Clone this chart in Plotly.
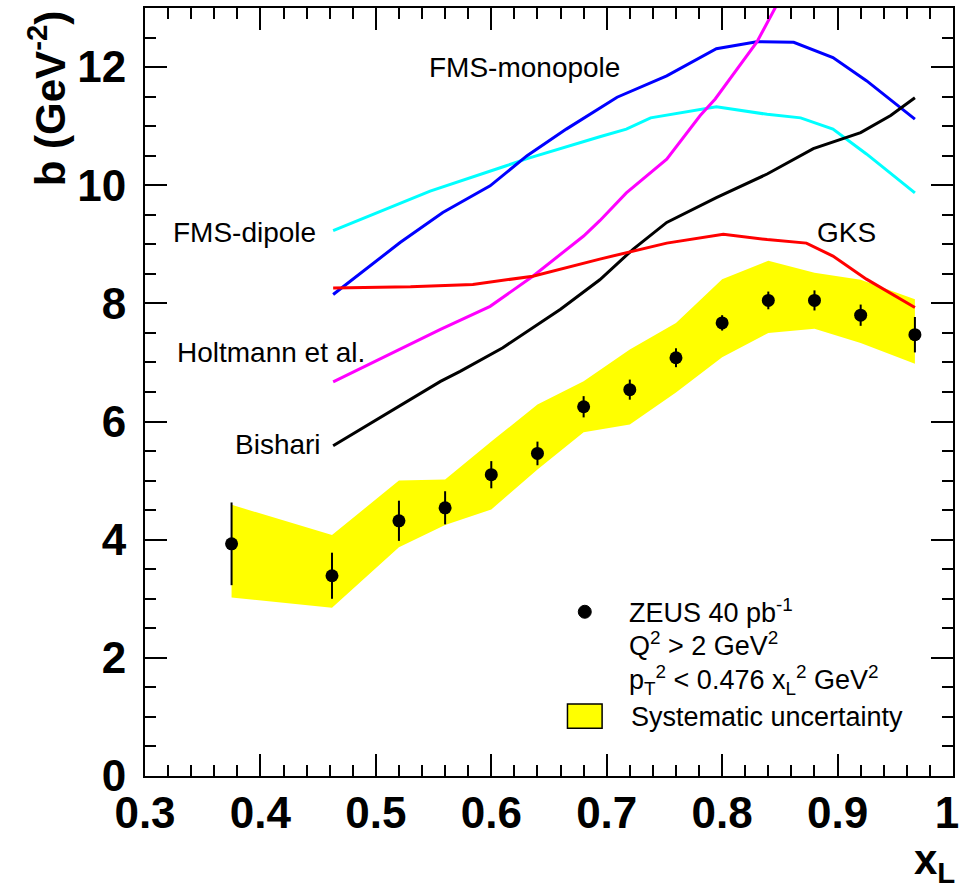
import plotly.graph_objects as go

# ---------------- data ----------------
X_POINTS = [0.375, 0.462, 0.52, 0.56, 0.60, 0.64, 0.68, 0.72, 0.76, 0.80, 0.84, 0.88, 0.92, 0.967]
B_VALUES = [3.93, 3.39, 4.32, 4.54, 5.10, 5.46, 6.25, 6.54, 7.08, 7.67, 8.05, 8.05, 7.80, 7.47]
B_STAT = [0.70, 0.39, 0.34, 0.28, 0.23, 0.20, 0.18, 0.17, 0.16, 0.13, 0.15, 0.17, 0.18, 0.30]
SYS_UPPER = [4.59, 4.08, 5.00, 5.02, 5.66, 6.29, 6.68, 7.22, 7.67, 8.41, 8.72, 8.52, 8.40, 8.07]
SYS_LOWER = [3.02, 2.85, 3.87, 4.25, 4.51, 5.19, 5.82, 5.95, 6.49, 7.09, 7.50, 7.57, 7.33, 6.98]

FMS_DIPOLE_X = [0.463, 0.53, 0.547, 0.613, 0.631, 0.694, 0.717, 0.738, 0.795, 0.839, 0.868, 0.896, 0.925, 0.967]
FMS_DIPOLE_B = [9.23, 9.76, 9.90, 10.33, 10.45, 10.82, 10.95, 11.14, 11.33, 11.20, 11.14, 10.95, 10.53, 9.87]

FMS_MONOPOLE_X = [0.463, 0.521, 0.558, 0.599, 0.631, 0.665, 0.709, 0.752, 0.795, 0.830, 0.862, 0.896, 0.925, 0.967]
FMS_MONOPOLE_B = [8.15, 9.03, 9.54, 9.99, 10.50, 10.95, 11.49, 11.85, 12.31, 12.43, 12.42, 12.16, 11.77, 11.12]

HOLTMANN_X = [0.463, 0.527, 0.556, 0.599, 0.636, 0.680, 0.694, 0.717, 0.752, 0.781, 0.794, 0.830, 0.847]
HOLTMANN_B = [6.67, 7.28, 7.56, 7.95, 8.46, 9.14, 9.40, 9.87, 10.44, 11.18, 11.46, 12.42, 13.04]

BISHARI_X = [0.463, 0.556, 0.573, 0.610, 0.660, 0.694, 0.723, 0.752, 0.795, 0.839, 0.879, 0.920, 0.946, 0.967]
BISHARI_B = [5.59, 6.68, 6.85, 7.25, 7.90, 8.40, 8.92, 9.37, 9.79, 10.19, 10.62, 10.89, 11.18, 11.48]

GKS_X = [0.463, 0.53, 0.584, 0.636, 0.694, 0.72, 0.752, 0.801, 0.839, 0.873, 0.896, 0.925, 0.967]
GKS_B = [8.26, 8.28, 8.32, 8.46, 8.75, 8.87, 9.02, 9.17, 9.08, 9.02, 8.80, 8.41, 7.93]

X_TICKS = [0.3, 0.4, 0.5, 0.6, 0.7, 0.8, 0.9, 1.0]
X_TICK_LABELS = ["0.3", "0.4", "0.5", "0.6", "0.7", "0.8", "0.9", "1\u00a0"]
Y_TICKS = [0, 2, 4, 6, 8, 10, 12]
Y_TICK_LABELS = ["0", "2", "4", "6", "8", "10", "12"]

# ---------------- figure ----------------
FONT = "Liberation Sans"
fig = go.Figure()

# systematic band
fig.add_trace(go.Scatter(
    x=X_POINTS + X_POINTS[::-1],
    y=SYS_UPPER + SYS_LOWER[::-1],
    fill="toself", fillcolor="#FFFF00", mode="lines",
    line=dict(width=0, color="#FFFF00"),
    hoverinfo="skip", showlegend=False,
))

curves = [
    (FMS_DIPOLE_X, FMS_DIPOLE_B, "#00FFFF"),
    (FMS_MONOPOLE_X, FMS_MONOPOLE_B, "#0000FF"),
    (HOLTMANN_X, HOLTMANN_B, "#FF00FF"),
    (BISHARI_X, BISHARI_B, "#000000"),
    (GKS_X, GKS_B, "#FF0000"),
]
for xs, ys, col in curves:
    fig.add_trace(go.Scatter(x=xs, y=ys, mode="lines",
                             line=dict(color=col, width=3),
                             showlegend=False))

fig.add_trace(go.Scatter(
    x=X_POINTS, y=B_VALUES, mode="markers",
    marker=dict(color="black", size=13, symbol="circle"),
    error_y=dict(type="data", array=B_STAT, visible=True, thickness=2, width=0, color="black"),
    showlegend=False,
))

tickfont = dict(family=FONT, size=44, color="black", weight="bold")
axis_common = dict(
    ticks="inside", ticklen=22, tickwidth=2, tickcolor="black",
    showline=True, linewidth=2, linecolor="black", mirror="allticks",
    showgrid=False, zeroline=False, tickfont=tickfont, ticklabeloverflow="allow",
    automargin=False,
)
fig.update_xaxes(range=[0.3, 1.0], tickmode="array", tickvals=X_TICKS, ticktext=X_TICK_LABELS,
                 minor=dict(tick0=0.3, dtick=0.02, ticks="inside", ticklen=11, tickwidth=2, tickcolor="black"),
                 ticklabelstandoff=-3, **axis_common)
fig.update_yaxes(range=[0, 13], tickmode="array", tickvals=Y_TICKS, ticktext=Y_TICK_LABELS,
                 minor=dict(tick0=0, dtick=0.5, ticks="inside", ticklen=11, tickwidth=2, tickcolor="black"),
                 ticklabelstandoff=8, **axis_common)

lab = dict(family=FONT, size=28, color="black")
leg = dict(family=FONT, size=27, color="black")
annotations = [
    dict(x=0.629, y=12.0, text="FMS-monopole", xanchor="center", font=lab),
    dict(x=0.45, y=9.20, text="FMS-dipole", xanchor="right", font=lab),
    dict(x=0.492, y=7.17, text="Holtmann et al.", xanchor="right", font=lab),
    dict(x=0.454, y=5.61, text="Bishari", xanchor="right", font=lab),
    dict(x=0.908, y=9.20, text="GKS", xanchor="center", font=lab),
    dict(x=0.718, y=2.80, text="ZEUS 40 pb<sup>-1</sup>", xanchor="left", font=leg),
    dict(x=0.718, y=2.24, text="Q<sup>2</sup> > 2 GeV<sup>2</sup>", xanchor="left", font=leg),
    dict(x=0.718, y=1.63, text="p<sub>T</sub><sup>2</sup> < 0.476 x<sub>L</sub><sup>2</sup> GeV<sup>2</sup>", xanchor="left", font=leg),
    dict(x=0.719, y=1.00, text="Systematic uncertainty", xanchor="left", font=leg),
]
for a in annotations:
    fig.add_annotation(xref="x", yref="y", yanchor="middle", showarrow=False, **a)

# axis titles
fig.add_annotation(xref="paper", yref="paper", x=-0.121, y=1.0, yanchor="top", xanchor="center",
                   text="b (GeV<sup>-2</sup>)", textangle=-90, showarrow=False,
                   font=dict(family=FONT, size=42, color="black", weight="bold"))
fig.add_annotation(xref="paper", yref="paper", x=1.005, y=-0.112, xanchor="right", yanchor="middle",
                   text="x<sub>L</sub>", showarrow=False,
                   font=dict(family=FONT, size=42, color="black", weight="bold"))

# legend keys
fig.add_shape(type="circle", xref="x", yref="y", xsizemode="pixel", ysizemode="pixel",
              xanchor=0.681, yanchor=2.78, x0=-6.5, x1=6.5, y0=-6.5, y1=6.5,
              fillcolor="black", line=dict(color="black", width=1))
fig.add_shape(type="rect", xref="x", yref="y", x0=0.666, x1=0.696, y0=0.81, y1=1.22,
              fillcolor="#FFFF00", line=dict(color="black", width=1.5))

fig.update_layout(
    width=959, height=892, autosize=False,
    margin=dict(l=145, r=6, t=8, b=116, autoexpand=False),
    plot_bgcolor="white", paper_bgcolor="white",
    font=dict(family=FONT, color="black"),
    showlegend=False,
)

fig.write_html("out.html")
